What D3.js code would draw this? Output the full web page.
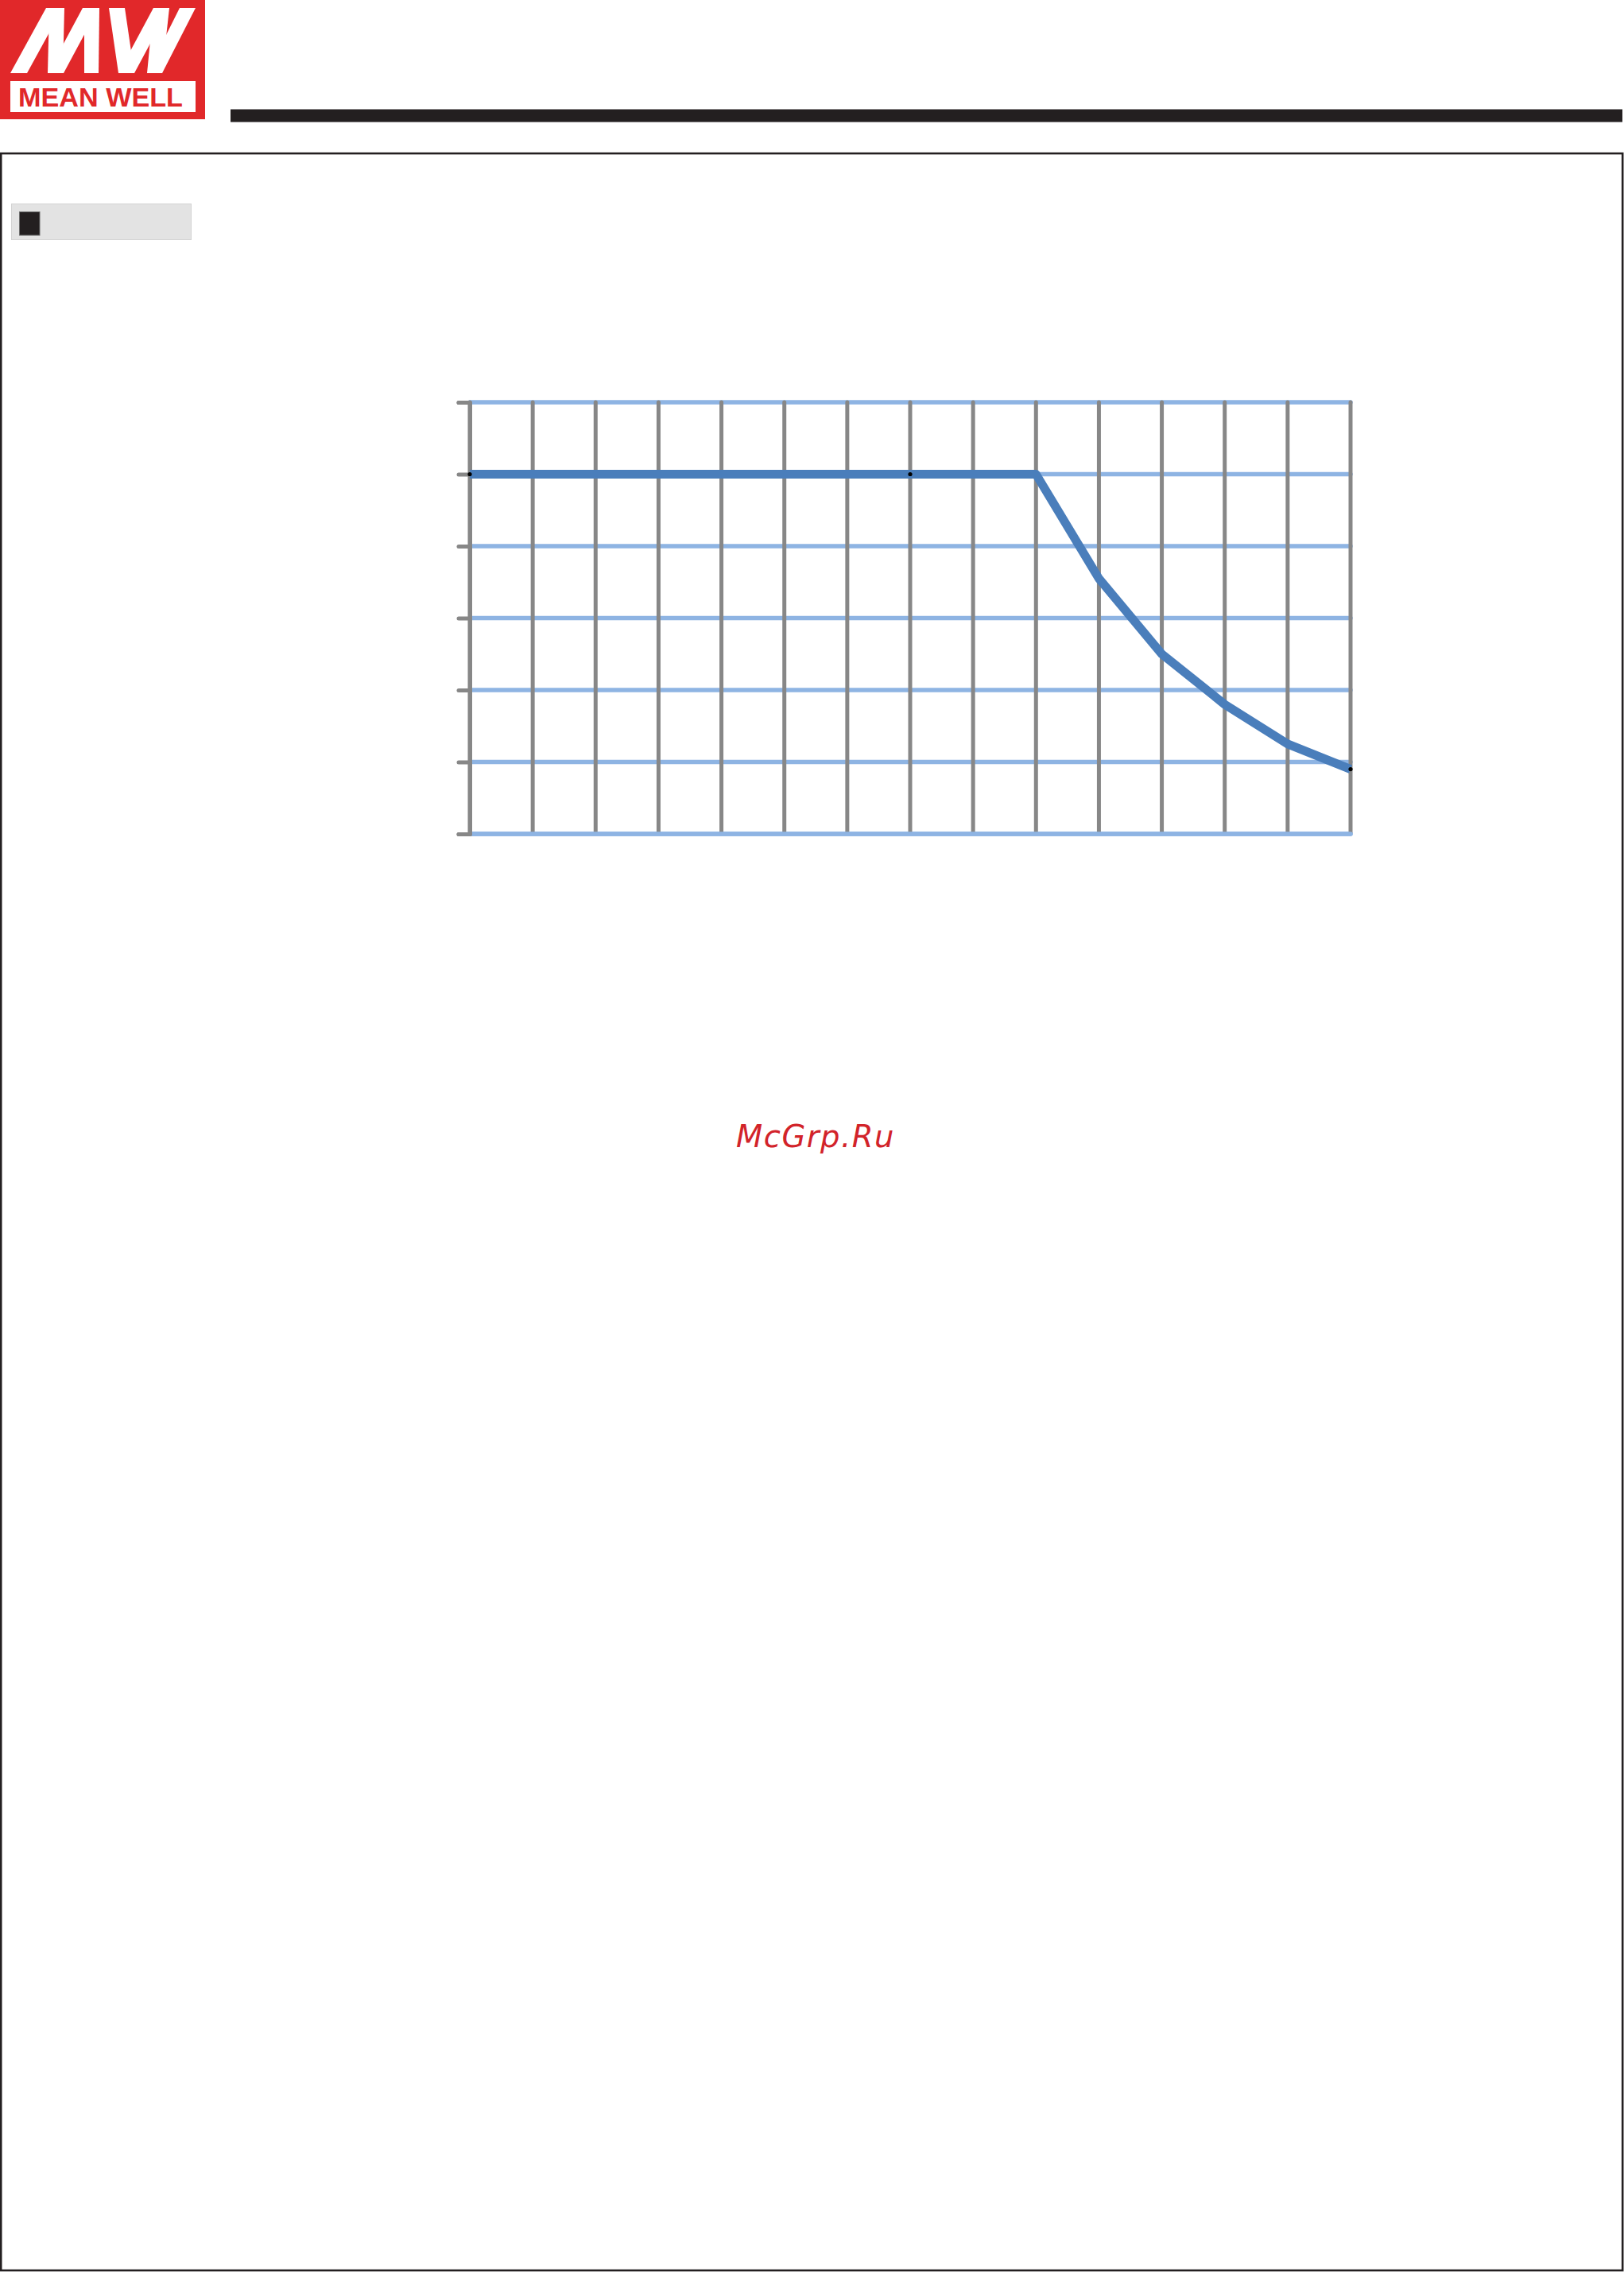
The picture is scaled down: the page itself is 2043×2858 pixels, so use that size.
<!DOCTYPE html>
<html>
<head>
<meta charset="utf-8">
<script src="https://cdn.jsdelivr.net/npm/d3@7"></script>
<style>
  html, body { margin: 0; padding: 0; background: #ffffff; }
  svg { display: block; }
</style>
</head>
<body>
<svg id="page" width="2043" height="2858"></svg>
<script>
// ---- data ----
const temperatures = [-40, -30, -20, -10, 0, 10, 20, 30, 40, 50, 60, 70, 80, 90, 100];
const loadPercent  = [100, 100, 100, 100, 100, 100, 100, 100, 100, 100, 71, 50, 36, 25, 18];
const loadTicks    = [0, 20, 40, 60, 80, 100, 120];
const markerTemps  = [-40, 30, 100];
const brandText    = "MEAN WELL";
const watermark    = "McGrp.Ru";

const svg = d3.select("#page");

// ---- header: logo ----
const logo = svg.append("g");
logo.append("rect").attr("x", 0).attr("y", 0).attr("width", 258).attr("height", 150).attr("fill", "#E1282A");
const mw = [
  [[13,92],[34,92],[79,10],[58,10]],
  [[60,92],[79,92],[81,10],[62,10]],
  [[60,92],[80,92],[124,10],[104,10]],
  [[106,92],[124,92],[125,10],[106,10]],
  [[137,10],[157,10],[169,92],[149,92]],
  [[149,92],[169,92],[213,10],[193,10]],
  [[193,10],[213,10],[204,92],[185,92]],
  [[185,92],[204,92],[246,10],[226,10]]
];
logo.selectAll("polygon").data(mw).join("polygon")
  .attr("points", d => d.map(p => p.join(",")).join(" "))
  .attr("fill", "#ffffff");
logo.append("rect").attr("x", 13).attr("y", 102).attr("width", 233).attr("height", 39).attr("fill", "#ffffff");
logo.append("text").attr("x", 23).attr("y", 133.5)
  .attr("font-family", "Liberation Sans, Arial, sans-serif").attr("font-weight", "bold")
  .attr("font-size", 32.5).attr("textLength", 207).attr("lengthAdjust", "spacingAndGlyphs")
  .attr("fill", "#E1282A").text(brandText);

// header bar
svg.append("rect").attr("x", 290).attr("y", 137.5).attr("width", 1751).attr("height", 16).attr("fill", "#231F20");

// page frame
svg.append("rect").attr("x", 1.2).attr("y", 193).attr("width", 2040).attr("height", 2663)
  .attr("fill", "none").attr("stroke", "#231F20").attr("stroke-width", 2.6);

// section label box
svg.append("rect").attr("x", 14.5).attr("y", 256.5).attr("width", 226).attr("height", 45)
  .attr("fill", "#E3E3E3").attr("stroke", "#D3D3D3").attr("stroke-width", 1);
svg.append("rect").attr("x", 24.5).attr("y", 266.5).attr("width", 25.5).attr("height", 29.5)
  .attr("fill", "#231F20").attr("stroke", "#6E6E6E").attr("stroke-width", 1);

// ---- chart ----
const x = d3.scaleLinear().domain([-40, 100]).range([591, 1699]);
const y = d3.scaleLinear().domain([0, 120]).range([1049, 506]);
const chart = svg.append("g");

const gridBlue = "#8EB4E3", gridGray = "#878787";

// horizontal gridlines
chart.append("g").selectAll("line").data(loadTicks).join("line")
  .attr("x1", x(-40)).attr("x2", x(100))
  .attr("y1", d => y(d)).attr("y2", d => y(d))
  .attr("stroke", gridBlue).attr("stroke-width", 5.5).attr("stroke-linecap", "round");

// vertical gridlines
chart.append("g").selectAll("line").data(temperatures).join("line")
  .attr("x1", d => x(d)).attr("x2", d => x(d))
  .attr("y1", y(120)).attr("y2", y(0) - 2)
  .attr("stroke", gridGray).attr("stroke-width", 5).attr("stroke-linecap", "round");

// bottom gridline over verticals
chart.append("line")
  .attr("x1", x(-40) + 2).attr("x2", x(100))
  .attr("y1", y(0)).attr("y2", y(0))
  .attr("stroke", gridBlue).attr("stroke-width", 5.5).attr("stroke-linecap", "round");

// left axis with ticks
const axis = chart.append("g").attr("transform", `translate(${x(-40)},0)`)
  .call(d3.axisLeft(y).tickValues(loadTicks).tickSize(14).tickSizeOuter(14).tickFormat(""));
axis.select(".domain").attr("stroke", gridGray).attr("stroke-width", 5)
  .attr("stroke-linecap", "round").attr("stroke-linejoin", "round").attr("fill", "none");
axis.selectAll(".tick line").attr("stroke", gridGray).attr("stroke-width", 5).attr("stroke-linecap", "round");

// derating curve
const pts = temperatures.map((t, i) => [t, loadPercent[i]]);
chart.append("path").datum(pts)
  .attr("d", d3.line().x(d => x(d[0])).y(d => y(d[1])))
  .attr("fill", "none").attr("stroke", "#4A7EBB").attr("stroke-width", 11)
  .attr("stroke-linejoin", "round");

// small markers
chart.append("g").selectAll("circle").data(markerTemps).join("circle")
  .attr("cx", d => x(d)).attr("cy", d => y(loadPercent[temperatures.indexOf(d)]))
  .attr("r", 2.6).attr("fill", "#000000");

// watermark
svg.append("text").attr("x", 1026).attr("y", 1443).attr("text-anchor", "middle")
  .attr("font-family", "DejaVu Sans, sans-serif").attr("font-style", "italic")
  .attr("font-size", 38.5).attr("letter-spacing", 1.5)
  .attr("fill", "#D2232A").text(watermark);
</script>
</body>
</html>
